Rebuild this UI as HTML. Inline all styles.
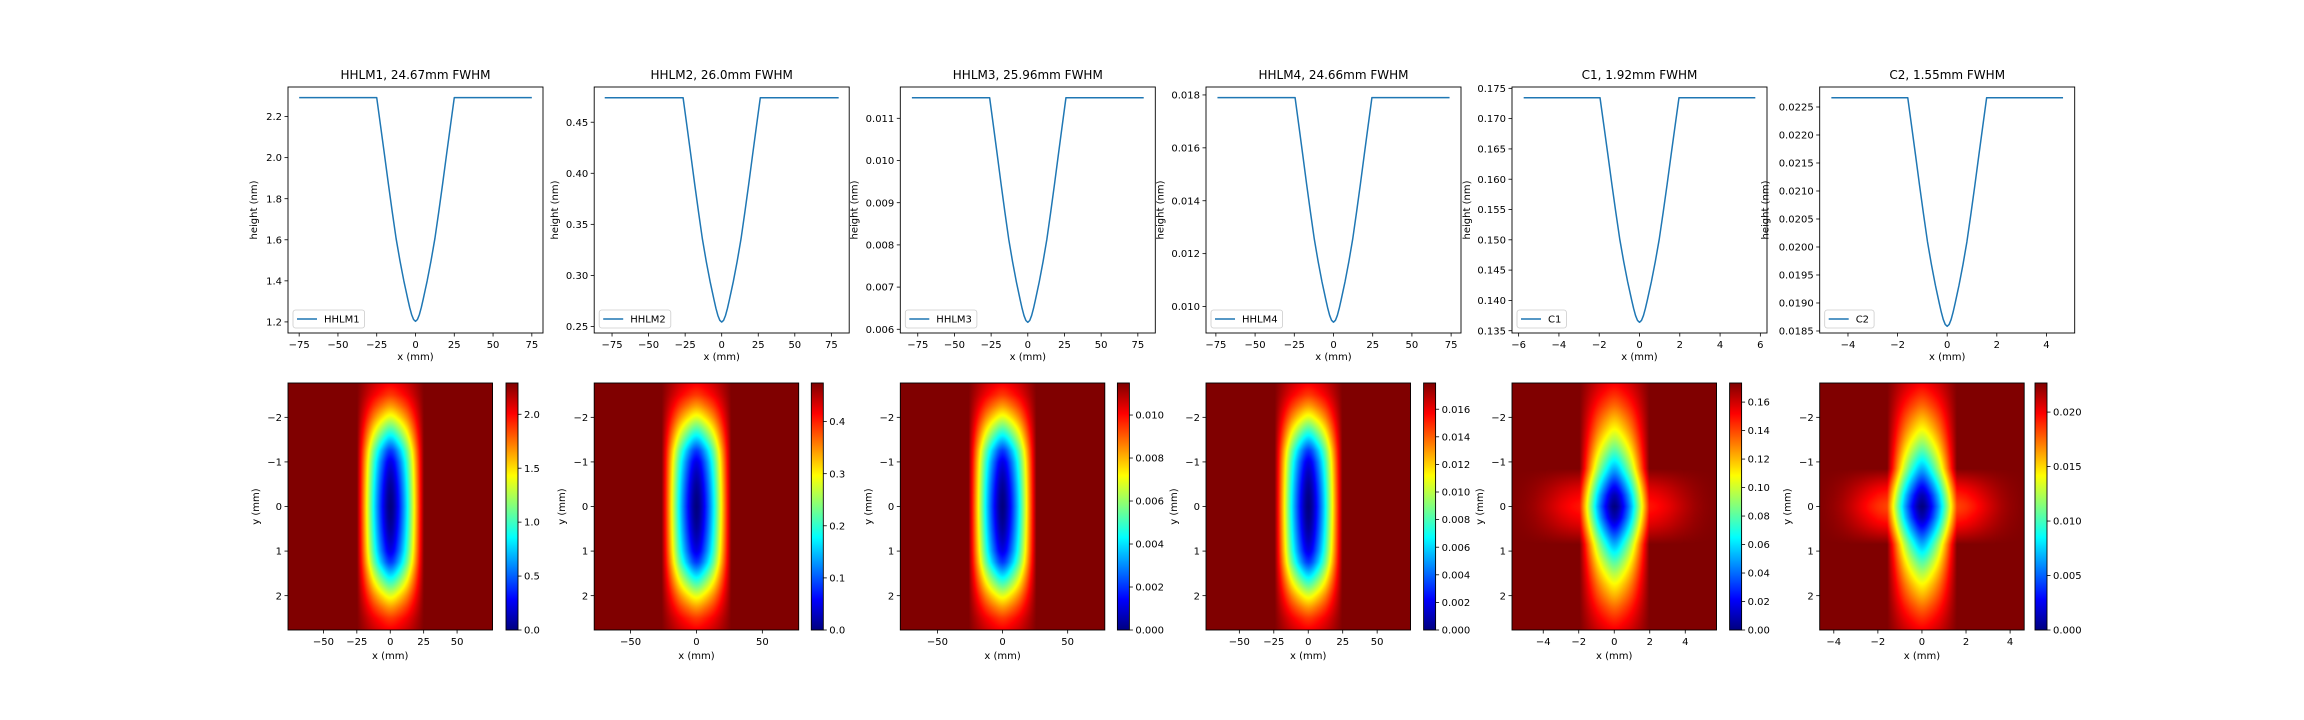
<!DOCTYPE html>
<html><head><meta charset="utf-8">
<style>
html,body{margin:0;padding:0;background:#fff;}
#wrap{position:relative;width:2304px;height:720px;overflow:hidden;font-family:"DejaVu Sans","Liberation Sans",sans-serif;}
svg{position:absolute;left:0;top:0;}
canvas{position:absolute;}
text{font-family:"DejaVu Sans","Liberation Sans",sans-serif;fill:#000;}
</style></head>
<body>
<div id="wrap">
<svg id="fig" width="2304" height="720"></svg>
</div>
<script>
// ---------- data ----------
const titles = ["HHLM1, 24.67mm FWHM","HHLM2, 26.0mm FWHM","HHLM3, 25.96mm FWHM","HHLM4, 24.66mm FWHM","C1, 1.92mm FWHM","C2, 1.55mm FWHM"];
const seriesNames = ["HHLM1","HHLM2","HHLM3","HHLM4","C1","C2"];
const topHeights = [2.292, 0.474, 0.011488, 0.0179, 0.17345, 0.022666];
const minHeights = [1.203, 0.2543, 0.006166, 0.00941, 0.13639, 0.018584];
const kinkHalf = [25, 26.4, 26, 24.5, 1.96, 1.59];
const lineHalf = [75, 80, 79, 74, 5.75, 4.67];
const xDomTop = [82.2, 87.2, 86.9, 81.3, 6.33, 5.14];
const yDomTop = [[1.146,2.344],[0.2436,0.4845],[0.005912,0.011742],[0.0090,0.0183],[0.13462,0.17522],[0.018464,0.022857]];
const yTicksTop = [[1.2,1.4,1.6,1.8,2.0,2.2],[0.25,0.30,0.35,0.40,0.45],[0.006,0.007,0.008,0.009,0.010,0.011],[0.010,0.012,0.014,0.016,0.018],[0.135,0.140,0.145,0.150,0.155,0.160,0.165,0.170,0.175],[0.0185,0.0190,0.0195,0.0200,0.0205,0.0210,0.0215,0.0220,0.0225]];
const yTickDec = [1,2,3,3,3,4];
const xTicksTop = [[-75,-50,-25,0,25,50,75],[-75,-50,-25,0,25,50,75],[-75,-50,-25,0,25,50,75],[-75,-50,-25,0,25,50,75],[-6,-4,-2,0,2,4,6],[-4,-2,0,2,4]];
// normalized dip profile (distance in units of kink = 25, fraction of full height)
const profX = [0,1.25,2.5,3.75,5,6.25,7.5,8.75,10,12.5,15,17.5,20,22.5,25];
const profF = [0,0.008,0.03,0.062,0.1,0.14,0.18,0.225,0.27,0.37,0.49,0.615,0.745,0.873,1];
// heatmap
const xDomMap = [76.5, 77.6, 78.5, 74.2, 5.76, 4.64];
const yDomMap = 2.77;
const xTicksMap = [[-50,-25,0,25,50],[-50,0,50],[-50,0,50],[-50,-25,0,25,50],[-4,-2,0,2,4],[-4,-2,0,2,4]];
const yTicksMap = [-2,-1,0,1,2];
const yGrid = [0,0.25,0.5,0.75,1,1.25,1.5,1.75,2,2.25,2.5,2.75,3];
const ampHHLM = [1,0.99,0.97,0.94,0.9,0.82,0.68,0.54,0.4,0.28,0.18,0.12,0.08];
const ampC = [1,0.95,0.85,0.74,0.64,0.54,0.45,0.37,0.3,0.23,0.17,0.12,0.08];
const bandX = [0,0.5,1,1.5,2,2.5,3,3.5,4,4.5,5,5.5,6];
const bandB = [1,1,1,1,0.95,0.85,0.7,0.52,0.35,0.2,0.1,0.04,0];
const bandStrength = [0,0,0,0,0.15,0.2];
const bandKink = [0.85,0.85,0.85,0.85,0.85,0.85];
const cbMax = [2.29, 0.474, 0.01149, 0.0179, 0.1734, 0.02267];
const cbTicks = [[0,0.5,1.0,1.5,2.0],[0,0.1,0.2,0.3,0.4],[0,0.002,0.004,0.006,0.008,0.010],[0,0.002,0.004,0.006,0.008,0.010,0.012,0.014,0.016],[0,0.02,0.04,0.06,0.08,0.10,0.12,0.14,0.16],[0,0.005,0.010,0.015,0.020]];
const cbDec = [1,1,3,3,2,3];

// ---------- layout ----------
const axLeft = [288, 594.2, 900.3, 1206, 1512, 1819.7];
const axW = 255, axTop = 87, axH = 246;
const ylabOff = [34, 39, 46, 45.5, 45, 54];
const mapTop = 383, mapH = 247, mapW = 204.5;
const cbLeft = [506, 811.3, 1117.4, 1423.6, 1729.6, 2035];
const cbW = 12;

const NS = "http://www.w3.org/2000/svg";
const svg = document.getElementById('fig');
const wrap = document.getElementById('wrap');
function mk(tag, attrs, parent){const e=document.createElementNS(NS,tag);for(const k in attrs)e.setAttribute(k,attrs[k]);(parent||svg).appendChild(e);return e;}
function fmt(v,d){const s=Math.abs(v).toFixed(d);return (v<-1e-12?"\u2212":"")+s;}
function interp(xs,ys,x){if(x<=xs[0])return ys[0];const n=xs.length;if(x>=xs[n-1])return ys[n-1];for(let i=1;i<n;i++){if(x<=xs[i]){const t=(x-xs[i-1])/(xs[i]-xs[i-1]);return ys[i-1]+t*(ys[i]-ys[i-1]);}}return ys[n-1];}
function prof(x,k){const a=Math.abs(x);if(a>=k)return 1;return interp(profX,profF,a/k*25);}
function jet(v){v=Math.max(0,Math.min(1,v));
  const r=Math.max(0,Math.min(1,Math.min(4*v-1.5,-4*v+4.5)));
  const g=Math.max(0,Math.min(1,Math.min(4*v-0.5,-4*v+3.5)));
  const b=Math.max(0,Math.min(1,Math.min(4*v+0.5,-4*v+2.5)));
  return [Math.round(r*255),Math.round(g*255),Math.round(b*255)];}

for(let p=0;p<6;p++){
  // ===== top line plot =====
  const L=axLeft[p], T=axTop, W=axW, H=axH;
  const xs = v => L + (v + xDomTop[p]) / (2*xDomTop[p]) * W;
  const ys = v => T + H - (v - yDomTop[p][0]) / (yDomTop[p][1]-yDomTop[p][0]) * H;
  const g = mk('g',{});
  
  
  const t = mk('text',{x:L+W/2,y:T-8,'text-anchor':'middle','font-size':'12'},g);
  t.textContent=titles[p];
  
  
  const pts=[];
  pts.push([-lineHalf[p],topHeights[p]]);
  for(let i=profX.length-1;i>=0;i--){pts.push([-kinkHalf[p]*profX[i]/25, minHeights[p]+(topHeights[p]-minHeights[p])*profF[i]]);}
  for(let i=1;i<profX.length;i++){pts.push([kinkHalf[p]*profX[i]/25, minHeights[p]+(topHeights[p]-minHeights[p])*profF[i]]);}
  pts.push([lineHalf[p],topHeights[p]]);
  const d=pts.map((q,i)=>(i?'L':'M')+xs(q[0]).toFixed(2)+','+ys(q[1]).toFixed(2)).join(' ');
  const path=mk('path',{d:d,fill:'none',stroke:'#1f77b4','stroke-width':'1.5','stroke-linejoin':'round'},g);
  
  
  const fr=mk('rect',{x:L,y:T,width:W,height:H,fill:'none',stroke:'#000','stroke-width':'0.9'},g);
  
  
  xTicksTop[p].forEach(v=>{
    const x=xs(v);
    mk('line',{x1:x,x2:x,y1:T+H,y2:T+H+3.5,stroke:'#000','stroke-width':'0.8'},g);
    const tl=mk('text',{x:x,y:T+H+15,'text-anchor':'middle','font-size':'10'},g);
    tl.textContent=fmt(v,0);
    
    
  });
  const xl=mk('text',{x:L+W/2,y:T+H+27,'text-anchor':'middle','font-size':'10'},g);
  xl.textContent='x (mm)';
  
  
  yTicksTop[p].forEach(v=>{
    const y=ys(v);
    mk('line',{x1:L-3.5,x2:L,y1:y,y2:y,stroke:'#000','stroke-width':'0.8'},g);
    const tl=mk('text',{x:L-6,y:y+3.6,'text-anchor':'end','font-size':'10'},g);
    tl.textContent=fmt(v,yTickDec[p]);
    
    
  });
  const yl=mk('text',{x:0,y:0,'text-anchor':'middle','font-size':'10',transform:`translate(${L-ylabOff[p]+3},${T+H/2}) rotate(-90)`},g);
  yl.textContent='height (nm)';
  
  
  const lg=mk('g',{},g);
  
  
  const lbox=mk('rect',{x:L+5,y:T+H-23,width:70,height:18,rx:2.5,fill:'#fff','fill-opacity':'0.8',stroke:'#ccc','stroke-width':'0.8'},lg);
  mk('line',{x1:L+9,x2:L+29,y1:T+H-14,y2:T+H-14,stroke:'#1f77b4','stroke-width':'1.5'},lg);
  const lt=mk('text',{x:L+36,y:T+H-10.5,'font-size':'10'},lg);
  lt.textContent=seriesNames[p];
  
  
  lbox.setAttribute('width',(lt.getComputedTextLength()+36).toFixed(1));

  // ===== heatmap =====
  const mL=axLeft[p];
  const cv=document.createElement('canvas');
  const CW=Math.round(mapW), CH=mapH;
  cv.width=CW; cv.height=CH;
  cv.style.left=mL+'px'; cv.style.top=mapTop+'px';
  cv.style.width=mapW+'px'; cv.style.height=mapH+'px';
  
  
  wrap.appendChild(cv);
  const ctx=cv.getContext('2d');
  const img=ctx.createImageData(CW,CH);
  const amp = p<4 ? ampHHLM : ampC;
  const scaleB = xDomMap[p]/5.76;
  for(let j=0;j<CH;j++){
    const y=-yDomMap+(j+0.5)/CH*2*yDomMap;
    const A=interp(yGrid,amp,Math.abs(y));
    const gyb=prof(y,bandKink[p]);
    for(let i=0;i<CW;i++){
      const x=-xDomMap[p]+(i+0.5)/CW*2*xDomMap[p];
      const fx=prof(x,kinkHalf[p]);
      const B=interp(bandX,bandB,Math.abs(x)/scaleB);
      let v=1-(1-fx)*A-bandStrength[p]*(1-gyb)*B*fx;
      const c=jet(v);
      const k=(j*CW+i)*4;
      img.data[k]=c[0];img.data[k+1]=c[1];img.data[k+2]=c[2];img.data[k+3]=255;
    }
  }
  ctx.putImageData(img,0,0);
  const hg=mk('g',{});
  
  
  mk('rect',{x:mL,y:mapTop,width:mapW,height:mapH,fill:'none',stroke:'#000','stroke-width':'0.9'},hg);
  const mx = v => mL + (v + xDomMap[p])/(2*xDomMap[p])*mapW;
  const my = v => mapTop + (v + yDomMap)/(2*yDomMap)*mapH;
  xTicksMap[p].forEach(v=>{
    const x=mx(v);
    mk('line',{x1:x,x2:x,y1:mapTop+mapH,y2:mapTop+mapH+3.5,stroke:'#000','stroke-width':'0.8'},hg);
    const tl=mk('text',{x:x,y:mapTop+mapH+15,'text-anchor':'middle','font-size':'10'},hg);
    tl.textContent=fmt(v,0);
    
    
  });
  const hxl=mk('text',{x:mL+mapW/2,y:mapTop+mapH+29,'text-anchor':'middle','font-size':'10'},hg);
  hxl.textContent='x (mm)';
  
  
  yTicksMap.forEach(v=>{
    const y=my(v);
    mk('line',{x1:mL-3.5,x2:mL,y1:y,y2:y,stroke:'#000','stroke-width':'0.8'},hg);
    const tl=mk('text',{x:mL-6,y:y+3.6,'text-anchor':'end','font-size':'10'},hg);
    tl.textContent=fmt(v,0);
    
    
  });
  const hyl=mk('text',{x:0,y:0,'text-anchor':'middle','font-size':'10',transform:`translate(${mL-29},${mapTop+mapH/2}) rotate(-90)`},hg);
  hyl.textContent='y (mm)';
  
  

  const cb=document.createElement('canvas');
  cb.width=1; cb.height=mapH;
  cb.style.left=cbLeft[p]+'px'; cb.style.top=mapTop+'px';
  cb.style.width=cbW+'px'; cb.style.height=mapH+'px';
  
  
  wrap.appendChild(cb);
  const cctx=cb.getContext('2d');
  const cimg=cctx.createImageData(1,mapH);
  for(let j=0;j<mapH;j++){const c=jet(1-(j+0.5)/mapH);cimg.data[j*4]=c[0];cimg.data[j*4+1]=c[1];cimg.data[j*4+2]=c[2];cimg.data[j*4+3]=255;}
  cctx.putImageData(cimg,0,0);
  mk('rect',{x:cbLeft[p],y:mapTop,width:cbW,height:mapH,fill:'none',stroke:'#000','stroke-width':'0.9'},hg);
  cbTicks[p].forEach(v=>{
    const y=mapTop+mapH-v/cbMax[p]*mapH;
    mk('line',{x1:cbLeft[p]+cbW,x2:cbLeft[p]+cbW+3.5,y1:y,y2:y,stroke:'#000','stroke-width':'0.8'},hg);
    const tl=mk('text',{x:cbLeft[p]+cbW+6,y:y+3.6,'font-size':'10'},hg);
    tl.textContent=fmt(v,cbDec[p]);
    
    
  });
}
wrap.appendChild(svg);
</script>
</body></html>
